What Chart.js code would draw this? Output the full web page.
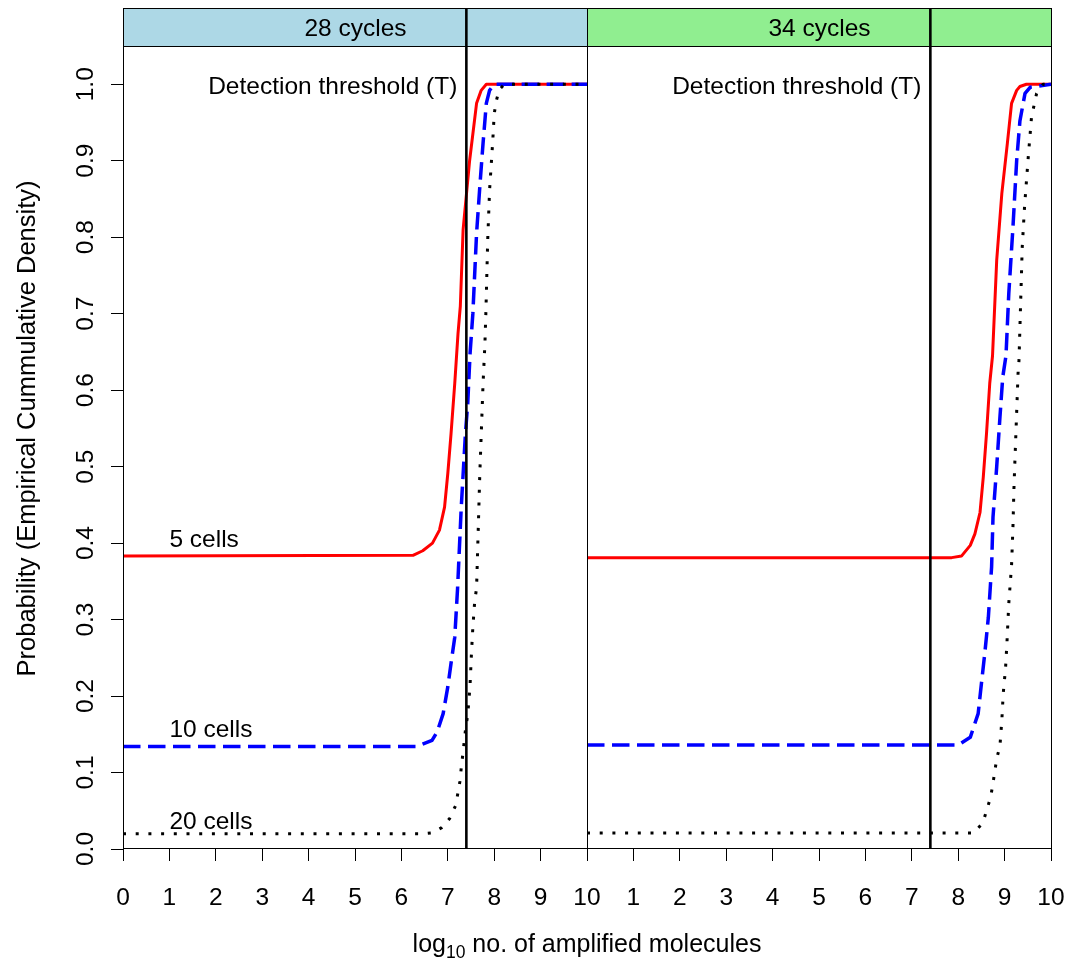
<!DOCTYPE html>
<html>
<head>
<meta charset="utf-8">
<script src="https://cdn.jsdelivr.net/npm/chart.js@4.4.1/dist/chart.umd.min.js"></script>
<style>
  html, body { margin: 0; padding: 0; background: #fff; }
  #wrap { width: 1068px; height: 966px; }
</style>
</head>
<body>
<div id="wrap"><canvas id="ecdfChart" width="1068" height="966"></canvas></div>
<script>
// panels
const panelTitles = ['28 cycles', '34 cycles'];
const thresholdLog = 7.4;
const cellLabels = ['5 cells', '10 cells', '20 cells'];
const xTicks = [0, 1, 2, 3, 4, 5, 6, 7, 8, 9, 10];

// 28 cycles, 5 cells
const x28c5 = [0, 6.25, 6.46, 6.67, 6.82, 6.93, 7.0, 7.07, 7.15, 7.22, 7.27, 7.33, 7.47, 7.62, 7.72, 7.83, 10];
const y28c5 = [0.383, 0.384, 0.39, 0.40, 0.417, 0.447, 0.491, 0.543, 0.609, 0.674, 0.71, 0.81, 0.90, 0.975, 0.992, 1.0, 1.0];
// 28 cycles, 10 cells
const x28c10 = [0, 6.33, 6.66, 6.77, 6.9, 7.0, 7.07, 7.15, 7.21, 7.29, 7.38, 7.43, 7.48, 7.54, 7.62, 7.69, 7.76, 7.83, 7.9, 8.0, 10];
const y28c10 = [0.134, 0.134, 0.142, 0.153, 0.177, 0.212, 0.243, 0.277, 0.34, 0.447, 0.543, 0.583, 0.648, 0.70, 0.805, 0.866, 0.923, 0.975, 0.992, 1.0, 1.0];
// 28 cycles, 20 cells
const x28c20 = [0, 6.5, 6.65, 6.87, 7.04, 7.17, 7.22, 7.26, 7.29, 7.32, 7.38, 7.42, 7.45, 7.48, 7.51, 7.54, 7.58, 7.62, 7.69, 7.76, 7.8, 7.82, 7.86, 7.9, 7.97, 8.0, 8.04, 8.11, 8.22, 10];
const y28c20 = [0.02, 0.02, 0.021, 0.028, 0.04, 0.057, 0.074, 0.088, 0.106, 0.122, 0.155, 0.172, 0.19, 0.215, 0.256, 0.29, 0.324, 0.341, 0.491, 0.609, 0.661, 0.70, 0.796, 0.861, 0.927, 0.961, 0.977, 0.993, 1.0, 1.0];

// 34 cycles, 5 cells
const x34c5 = [0, 7.86, 8.07, 8.26, 8.36, 8.47, 8.54, 8.61, 8.68, 8.74, 8.83, 8.94, 9.06, 9.15, 9.26, 9.33, 9.47, 10];
const y34c5 = [0.381, 0.381, 0.383, 0.397, 0.412, 0.44, 0.486, 0.543, 0.609, 0.645, 0.77, 0.857, 0.923, 0.975, 0.992, 0.997, 1.0, 1.0];
// 34 cycles, 10 cells
const x34c10 = [0, 8.0, 8.26, 8.43, 8.5, 8.58, 8.65, 8.72, 8.75, 8.83, 8.9, 8.96, 9.03, 9.09, 9.18, 9.26, 9.33, 9.44, 9.55, 10];
const y34c10 = [0.136, 0.136, 0.146, 0.177, 0.216, 0.26, 0.303, 0.369, 0.434, 0.5, 0.565, 0.617, 0.645, 0.726, 0.813, 0.9, 0.952, 0.988, 0.996, 1.0];
// 34 cycles, 20 cells
const x34c20 = [0, 8.33, 8.53, 8.61, 8.70, 8.75, 8.83, 8.9, 8.94, 8.97, 9.02, 9.05, 9.09, 9.15, 9.18, 9.2, 9.22, 9.26, 9.29, 9.31, 9.38, 9.43, 9.51, 9.58, 9.69, 9.83, 10];
const y34c20 = [0.021, 0.021, 0.034, 0.05, 0.068, 0.086, 0.118, 0.135, 0.168, 0.203, 0.236, 0.269, 0.321, 0.371, 0.421, 0.469, 0.504, 0.571, 0.622, 0.639, 0.787, 0.84, 0.905, 0.957, 0.988, 1.0, 1.0];

// where the "n cells" labels sit in the left panel (data units)
const cellLabelX = 1;
const cellLabelY = [0.395, 0.146, 0.026];

const FONT = '"Liberation Sans", Arial, Helvetica, sans-serif';
const FS = 24.5;
const stripTop = 8;
const stripFill = ['#ADD8E6', '#90EE90'];

const pts = (xs, ys) => xs.map((x, i) => ({ x: x, y: ys[i] }));

const redStyle = { borderColor: '#FF0000', borderWidth: 3, order: 3 };
const blueStyle = { borderColor: '#0000FF', borderWidth: 3.5, borderDash: [17.5, 7.5], order: 2 };
const dotStyle = { borderColor: '#000000', borderWidth: 3, borderDash: [3, 9.7], order: 1 };

function series(label, xs, ys, axis, style) {
  return Object.assign({
    label: label,
    data: pts(xs, ys),
    xAxisID: axis,
    yAxisID: 'y',
    pointRadius: 0,
    tension: 0,
    fill: false,
    borderJoinStyle: 'round',
    borderCapStyle: 'butt'
  }, style);
}

// strips, frames, threshold lines and text labels
const panelDecor = {
  id: 'panelDecor',
  afterDatasetsDraw(chart) {
    const { ctx, chartArea, scales } = chart;
    const yS = scales.y;
    const top = chartArea.top, bottom = chartArea.bottom;
    ctx.save();
    ['x1', 'x2'].forEach((id, i) => {
      const xs = scales[id];
      const l = Math.round(xs.left) + 0.5, r = Math.round(xs.right) + 0.5;
      const t = Math.round(top) + 0.5, b = Math.round(bottom) - 0.5;
      // strip
      ctx.fillStyle = stripFill[i];
      ctx.fillRect(l, stripTop + 0.5, r - l, t - stripTop - 0.5);
      ctx.strokeStyle = '#000';
      ctx.lineWidth = 1;
      ctx.strokeRect(l, stripTop + 0.5, r - l, t - stripTop - 0.5);
      ctx.fillStyle = '#000';
      ctx.font = FS + 'px ' + FONT;
      ctx.textAlign = 'center';
      ctx.textBaseline = 'alphabetic';
      ctx.fillText(panelTitles[i], (l + r) / 2, 36);
      // panel frame
      ctx.strokeRect(l, t, r - l, b - t);
      // threshold
      const tx = xs.getPixelForValue(thresholdLog);
      ctx.lineWidth = 2.6;
      ctx.beginPath();
      ctx.moveTo(tx, stripTop);
      ctx.lineTo(tx, bottom);
      ctx.stroke();
      ctx.textAlign = 'right';
      ctx.fillText('Detection threshold (T)', tx - 9, yS.getPixelForValue(1) + 10);
    });

    // curve labels, left panel
    const x1 = scales.x1;
    ctx.textAlign = 'left';
    cellLabels.forEach((txt, k) => {
      ctx.fillText(txt, x1.getPixelForValue(cellLabelX), yS.getPixelForValue(cellLabelY[k]));
    });

    // y tick labels, parallel to the axis
    ctx.textAlign = 'center';
    yS.ticks.forEach(tk => {
      const py = yS.getPixelForValue(tk.value);
      ctx.save();
      ctx.translate(93, py);
      ctx.rotate(-Math.PI / 2);
      ctx.fillText(tk.value.toFixed(1), 0, 0);
      ctx.restore();
    });

    // axis titles
    ctx.save();
    ctx.font = '25.5px ' + FONT;
    ctx.translate(35, (stripTop + bottom) / 2);
    ctx.rotate(-Math.PI / 2);
    ctx.fillText('Probability (Empirical Cummulative Density)', 0, 0);
    ctx.restore();

    const mid = (scales.x1.left + scales.x2.right) / 2;
    const base = 952;
    const a = 'log', sub = '10', rest = ' no. of amplified molecules';
    const big = '25px ' + FONT, small = '17.5px ' + FONT;
    ctx.font = big;
    const wa = ctx.measureText(a).width, wr = ctx.measureText(rest).width;
    ctx.font = small;
    const ws = ctx.measureText(sub).width;
    const x0 = mid - (wa + ws + wr) / 2;
    ctx.textAlign = 'left';
    ctx.font = big;
    ctx.fillText(a, x0, base);
    ctx.font = small;
    ctx.fillText(sub, x0 + wa, base + 6);
    ctx.font = big;
    ctx.fillText(rest, x0 + wa + ws, base);
    ctx.restore();
  }
};

function xScale(hideZero) {
  return {
    type: 'linear',
    position: 'bottom',
    stack: 'panels',
    stackWeight: 1,
    min: 0,
    max: 10,
    afterBuildTicks: s => { s.ticks = xTicks.map(v => ({ value: v })); },
    ticks: {
      autoSkip: false,
      maxRotation: 0,
      padding: 23,
      color: '#000',
      font: { family: FONT, size: FS },
      callback: v => (hideZero && v === 0) ? '' : String(v)
    },
    grid: { drawOnChartArea: false, drawTicks: true, tickLength: 12, color: '#000', lineWidth: 1 },
    border: { display: false },
    afterFit: s => { s.height = 117; s.paddingLeft = 0; s.paddingRight = 0; }
  };
}

new Chart(document.getElementById('ecdfChart'), {
  type: 'line',
  data: {
    datasets: [
      series('5 cells', x28c5, y28c5, 'x1', redStyle),
      series('10 cells', x28c10, y28c10, 'x1', blueStyle),
      series('20 cells', x28c20, y28c20, 'x1', dotStyle),
      series('5 cells', x34c5, y34c5, 'x2', redStyle),
      series('10 cells', x34c10, y34c10, 'x2', blueStyle),
      series('20 cells', x34c20, y34c20, 'x2', dotStyle)
    ]
  },
  options: {
    responsive: false,
    devicePixelRatio: 1,
    animation: false,
    layout: { padding: { top: 46, right: 17, bottom: 0, left: 0 } },
    plugins: { legend: { display: false }, tooltip: { enabled: false } },
    scales: {
      x1: xScale(false),
      x2: xScale(true),
      y: {
        type: 'linear',
        position: 'left',
        min: 0,
        max: 1.05,
        ticks: { stepSize: 0.1, includeBounds: false, display: false },
        grid: { drawOnChartArea: false, drawTicks: true, tickLength: 12, color: '#000', lineWidth: 1 },
        border: { display: false },
        afterFit: s => { s.width = 123; s.paddingTop = 0; s.paddingBottom = 0; }
      }
    }
  },
  plugins: [panelDecor]
});
</script>
</body>
</html>
